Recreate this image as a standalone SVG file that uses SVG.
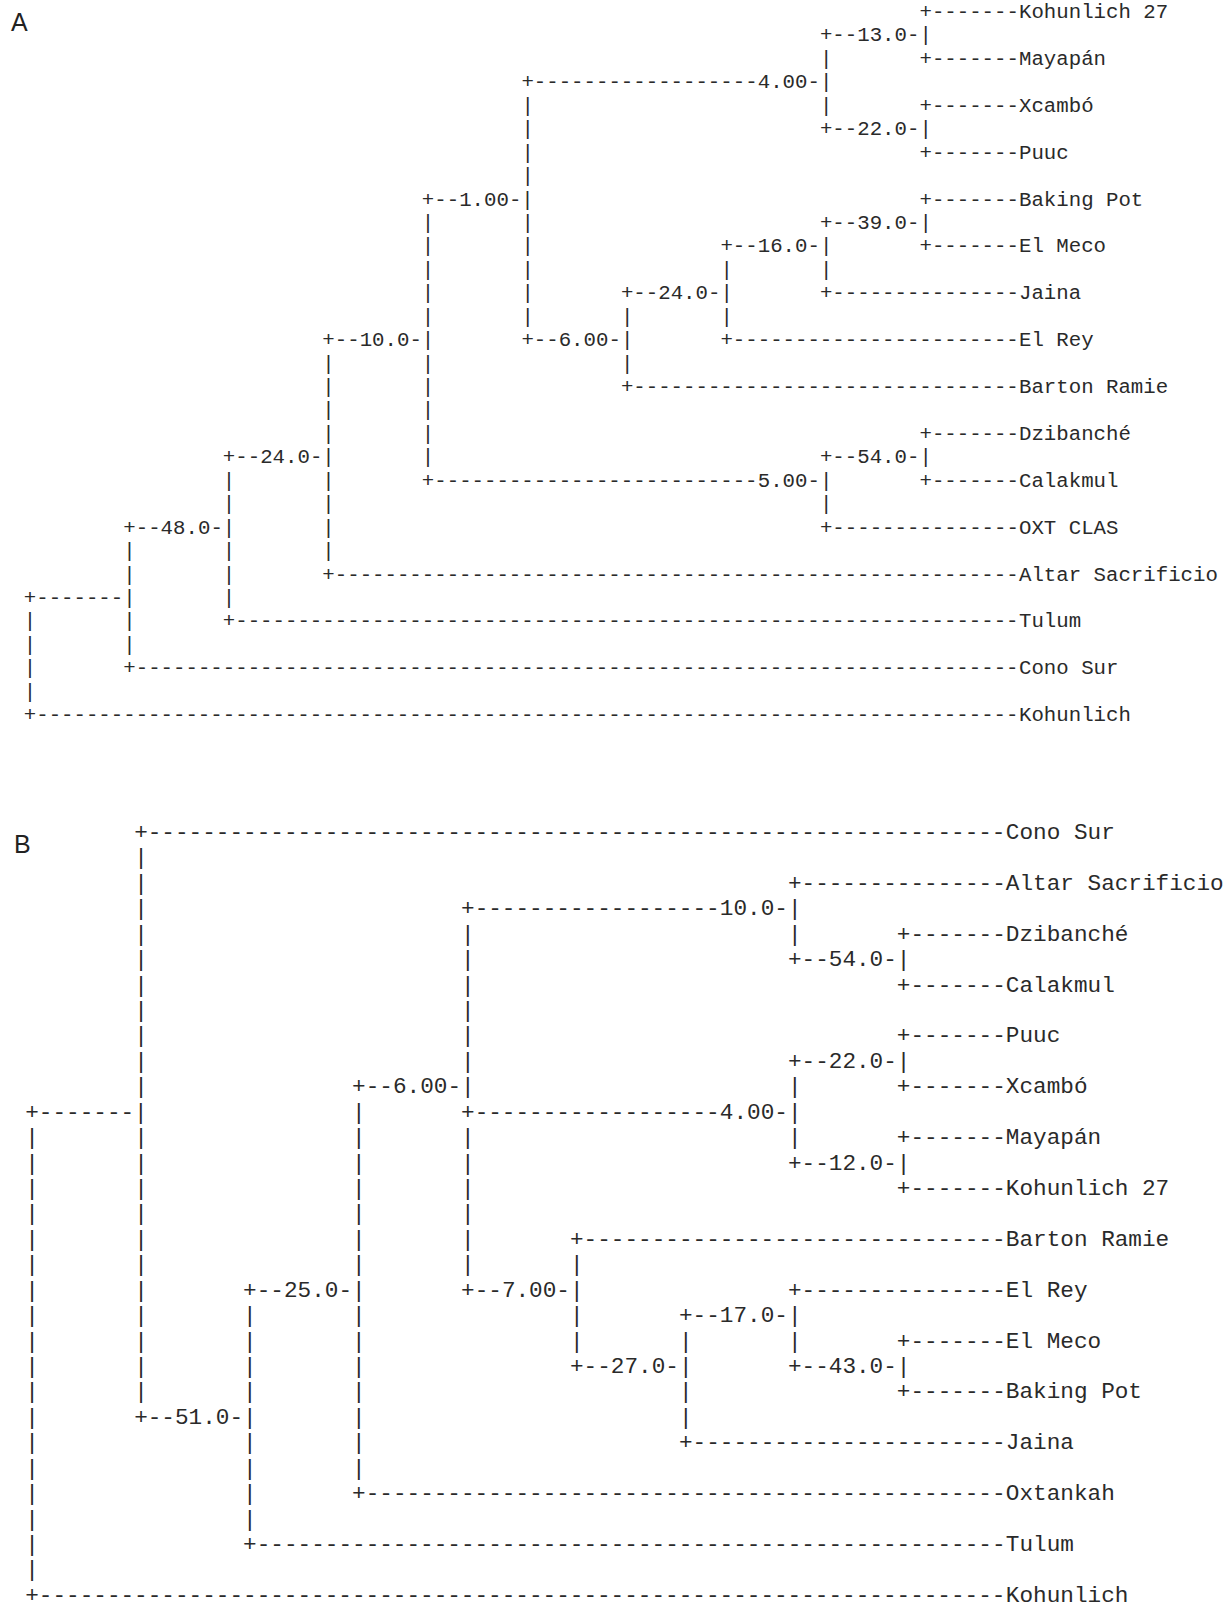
<svg xmlns="http://www.w3.org/2000/svg" width="1226" height="1611" viewBox="0 0 1226 1611">
<style>
.ta{font-family:"Liberation Mono","DejaVu Sans Mono",monospace;font-size:20.73px;fill:#2a2a2a}
.tb{font-family:"Liberation Mono","DejaVu Sans Mono",monospace;font-size:22.7px;fill:#2a2a2a}
.panel{font-family:"Liberation Sans",Arial,sans-serif;font-size:25px;fill:#222}
</style>
<rect width="1226" height="1611" fill="#ffffff"/>
<text class="panel" x="11" y="31">A</text>
<text class="panel" x="14" y="853">B</text>

<g id="connectors">
<g id="connectors-A" class="ta">
<text y="18"><tspan x="919.46">+-------</tspan></text>
<text y="41.44"><tspan x="819.94">+--</tspan><tspan x="907.02">-|</tspan></text>
<text y="64.88"><tspan x="819.94">|</tspan><tspan x="919.46">+-------</tspan></text>
<text y="88.32"><tspan x="521.38">+------------------</tspan><tspan x="807.5">-|</tspan></text>
<text y="111.76"><tspan x="521.38">|</tspan><tspan x="819.94">|</tspan><tspan x="919.46">+-------</tspan></text>
<text y="135.2"><tspan x="521.38">|</tspan><tspan x="819.94">+--</tspan><tspan x="907.02">-|</tspan></text>
<text y="158.64"><tspan x="521.38">|</tspan><tspan x="919.46">+-------</tspan></text>
<text y="182.08"><tspan x="521.38">|</tspan></text>
<text y="205.52"><tspan x="421.86">+--</tspan><tspan x="508.94">-|</tspan><tspan x="919.46">+-------</tspan></text>
<text y="228.96"><tspan x="421.86">|</tspan><tspan x="521.38">|</tspan><tspan x="819.94">+--</tspan><tspan x="907.02">-|</tspan></text>
<text y="252.4"><tspan x="421.86">|</tspan><tspan x="521.38">|</tspan><tspan x="720.42">+--</tspan><tspan x="807.5">-|</tspan><tspan x="919.46">+-------</tspan></text>
<text y="275.84"><tspan x="421.86">|</tspan><tspan x="521.38">|</tspan><tspan x="720.42">|</tspan><tspan x="819.94">|</tspan></text>
<text y="299.28"><tspan x="421.86">|</tspan><tspan x="521.38">|</tspan><tspan x="620.9">+--</tspan><tspan x="707.98">-|</tspan><tspan x="819.94">+---------------</tspan></text>
<text y="322.72"><tspan x="421.86">|</tspan><tspan x="521.38">|</tspan><tspan x="620.9">|</tspan><tspan x="720.42">|</tspan></text>
<text y="346.16"><tspan x="322.34">+--</tspan><tspan x="409.42">-|</tspan><tspan x="521.38">+--</tspan><tspan x="608.46">-|</tspan><tspan x="720.42">+-----------------------</tspan></text>
<text y="369.6"><tspan x="322.34">|</tspan><tspan x="421.86">|</tspan><tspan x="620.9">|</tspan></text>
<text y="393.04"><tspan x="322.34">|</tspan><tspan x="421.86">|</tspan><tspan x="620.9">+-------------------------------</tspan></text>
<text y="416.48"><tspan x="322.34">|</tspan><tspan x="421.86">|</tspan></text>
<text y="439.92"><tspan x="322.34">|</tspan><tspan x="421.86">|</tspan><tspan x="919.46">+-------</tspan></text>
<text y="463.36"><tspan x="222.82">+--</tspan><tspan x="309.9">-|</tspan><tspan x="421.86">|</tspan><tspan x="819.94">+--</tspan><tspan x="907.02">-|</tspan></text>
<text y="486.8"><tspan x="222.82">|</tspan><tspan x="322.34">|</tspan><tspan x="421.86">+--------------------------</tspan><tspan x="807.5">-|</tspan><tspan x="919.46">+-------</tspan></text>
<text y="510.24"><tspan x="222.82">|</tspan><tspan x="322.34">|</tspan><tspan x="819.94">|</tspan></text>
<text y="533.68"><tspan x="123.3">+--</tspan><tspan x="210.38">-|</tspan><tspan x="322.34">|</tspan><tspan x="819.94">+---------------</tspan></text>
<text y="557.12"><tspan x="123.3">|</tspan><tspan x="222.82">|</tspan><tspan x="322.34">|</tspan></text>
<text y="580.56"><tspan x="123.3">|</tspan><tspan x="222.82">|</tspan><tspan x="322.34">+-------------------------------------------------------</tspan></text>
<text y="604"><tspan x="23.78">+-------|</tspan><tspan x="222.82">|</tspan></text>
<text y="627.44"><tspan x="23.78">|</tspan><tspan x="123.3">|</tspan><tspan x="222.82">+---------------------------------------------------------------</tspan></text>
<text y="650.88"><tspan x="23.78">|</tspan><tspan x="123.3">|</tspan></text>
<text y="674.32"><tspan x="23.78">|</tspan><tspan x="123.3">+-----------------------------------------------------------------------</tspan></text>
<text y="697.76"><tspan x="23.78">|</tspan></text>
<text y="721.2"><tspan x="23.78">+-------------------------------------------------------------------------------</tspan></text>
</g>
<g id="connectors-B" class="tb">
<text y="839"><tspan x="134.15">+---------------------------------------------------------------</tspan></text>
<text y="864.43"><tspan x="134.15">|</tspan></text>
<text y="889.86"><tspan x="134.15">|</tspan><tspan x="787.91">+---------------</tspan></text>
<text y="915.29"><tspan x="134.15">|</tspan><tspan x="461.03">+------------------</tspan><tspan x="774.29">-|</tspan></text>
<text y="940.72"><tspan x="134.15">|</tspan><tspan x="461.03">|</tspan><tspan x="787.91">|</tspan><tspan x="896.87">+-------</tspan></text>
<text y="966.15"><tspan x="134.15">|</tspan><tspan x="461.03">|</tspan><tspan x="787.91">+--</tspan><tspan x="883.25">-|</tspan></text>
<text y="991.58"><tspan x="134.15">|</tspan><tspan x="461.03">|</tspan><tspan x="896.87">+-------</tspan></text>
<text y="1017.01"><tspan x="134.15">|</tspan><tspan x="461.03">|</tspan></text>
<text y="1042.44"><tspan x="134.15">|</tspan><tspan x="461.03">|</tspan><tspan x="896.87">+-------</tspan></text>
<text y="1067.87"><tspan x="134.15">|</tspan><tspan x="461.03">|</tspan><tspan x="787.91">+--</tspan><tspan x="883.25">-|</tspan></text>
<text y="1093.3"><tspan x="134.15">|</tspan><tspan x="352.07">+--</tspan><tspan x="447.41">-|</tspan><tspan x="787.91">|</tspan><tspan x="896.87">+-------</tspan></text>
<text y="1118.73"><tspan x="25.19">+-------|</tspan><tspan x="352.07">|</tspan><tspan x="461.03">+------------------</tspan><tspan x="774.29">-|</tspan></text>
<text y="1144.16"><tspan x="25.19">|</tspan><tspan x="134.15">|</tspan><tspan x="352.07">|</tspan><tspan x="461.03">|</tspan><tspan x="787.91">|</tspan><tspan x="896.87">+-------</tspan></text>
<text y="1169.59"><tspan x="25.19">|</tspan><tspan x="134.15">|</tspan><tspan x="352.07">|</tspan><tspan x="461.03">|</tspan><tspan x="787.91">+--</tspan><tspan x="883.25">-|</tspan></text>
<text y="1195.02"><tspan x="25.19">|</tspan><tspan x="134.15">|</tspan><tspan x="352.07">|</tspan><tspan x="461.03">|</tspan><tspan x="896.87">+-------</tspan></text>
<text y="1220.45"><tspan x="25.19">|</tspan><tspan x="134.15">|</tspan><tspan x="352.07">|</tspan><tspan x="461.03">|</tspan></text>
<text y="1245.88"><tspan x="25.19">|</tspan><tspan x="134.15">|</tspan><tspan x="352.07">|</tspan><tspan x="461.03">|</tspan><tspan x="569.99">+-------------------------------</tspan></text>
<text y="1271.31"><tspan x="25.19">|</tspan><tspan x="134.15">|</tspan><tspan x="352.07">|</tspan><tspan x="461.03">|</tspan><tspan x="569.99">|</tspan></text>
<text y="1296.74"><tspan x="25.19">|</tspan><tspan x="134.15">|</tspan><tspan x="243.11">+--</tspan><tspan x="338.45">-|</tspan><tspan x="461.03">+--</tspan><tspan x="556.37">-|</tspan><tspan x="787.91">+---------------</tspan></text>
<text y="1322.17"><tspan x="25.19">|</tspan><tspan x="134.15">|</tspan><tspan x="243.11">|</tspan><tspan x="352.07">|</tspan><tspan x="569.99">|</tspan><tspan x="678.95">+--</tspan><tspan x="774.29">-|</tspan></text>
<text y="1347.6"><tspan x="25.19">|</tspan><tspan x="134.15">|</tspan><tspan x="243.11">|</tspan><tspan x="352.07">|</tspan><tspan x="569.99">|</tspan><tspan x="678.95">|</tspan><tspan x="787.91">|</tspan><tspan x="896.87">+-------</tspan></text>
<text y="1373.03"><tspan x="25.19">|</tspan><tspan x="134.15">|</tspan><tspan x="243.11">|</tspan><tspan x="352.07">|</tspan><tspan x="569.99">+--</tspan><tspan x="665.33">-|</tspan><tspan x="787.91">+--</tspan><tspan x="883.25">-|</tspan></text>
<text y="1398.46"><tspan x="25.19">|</tspan><tspan x="134.15">|</tspan><tspan x="243.11">|</tspan><tspan x="352.07">|</tspan><tspan x="678.95">|</tspan><tspan x="896.87">+-------</tspan></text>
<text y="1423.89"><tspan x="25.19">|</tspan><tspan x="134.15">+--</tspan><tspan x="229.49">-|</tspan><tspan x="352.07">|</tspan><tspan x="678.95">|</tspan></text>
<text y="1449.32"><tspan x="25.19">|</tspan><tspan x="243.11">|</tspan><tspan x="352.07">|</tspan><tspan x="678.95">+-----------------------</tspan></text>
<text y="1474.75"><tspan x="25.19">|</tspan><tspan x="243.11">|</tspan><tspan x="352.07">|</tspan></text>
<text y="1500.18"><tspan x="25.19">|</tspan><tspan x="243.11">|</tspan><tspan x="352.07">+-----------------------------------------------</tspan></text>
<text y="1525.61"><tspan x="25.19">|</tspan><tspan x="243.11">|</tspan></text>
<text y="1551.04"><tspan x="25.19">|</tspan><tspan x="243.11">+-------------------------------------------------------</tspan></text>
<text y="1576.47"><tspan x="25.19">|</tspan></text>
<text y="1601.9"><tspan x="25.19">+-----------------------------------------------------------------------</tspan></text>
</g>
</g>

<g id="nodes-A" class="ta">
<g id="A-n13"><text x="857.26" y="41.44">13.0</text></g>
<g id="A-n4"><text x="757.74" y="88.32">4.00</text></g>
<g id="A-n22"><text x="857.26" y="135.2">22.0</text></g>
<g id="A-n1"><text x="459.18" y="205.52">1.00</text></g>
<g id="A-n39"><text x="857.26" y="228.96">39.0</text></g>
<g id="A-n16"><text x="757.74" y="252.4">16.0</text></g>
<g id="A-n24b"><text x="658.22" y="299.28">24.0</text></g>
<g id="A-n10"><text x="359.66" y="346.16">10.0</text></g>
<g id="A-n6"><text x="558.7" y="346.16">6.00</text></g>
<g id="A-n24a"><text x="260.14" y="463.36">24.0</text></g>
<g id="A-n54"><text x="857.26" y="463.36">54.0</text></g>
<g id="A-n5"><text x="757.74" y="486.8">5.00</text></g>
<g id="A-n48"><text x="160.62" y="533.68">48.0</text></g>
<g id="A-kohunlich27"><text x="1018.98" y="18">Kohunlich 27</text></g>
<g id="A-mayapan"><text x="1018.98" y="64.88">Mayapán</text></g>
<g id="A-xcambo"><text x="1018.98" y="111.76">Xcambó</text></g>
<g id="A-puuc"><text x="1018.98" y="158.64">Puuc</text></g>
<g id="A-bakingpot"><text x="1018.98" y="205.52">Baking Pot</text></g>
<g id="A-elmeco"><text x="1018.98" y="252.4">El Meco</text></g>
<g id="A-jaina"><text x="1018.98" y="299.28">Jaina</text></g>
<g id="A-elrey"><text x="1018.98" y="346.16">El Rey</text></g>
<g id="A-bartonramie"><text x="1018.98" y="393.04">Barton Ramie</text></g>
<g id="A-dzibanche"><text x="1018.98" y="439.92">Dzibanché</text></g>
<g id="A-calakmul"><text x="1018.98" y="486.8">Calakmul</text></g>
<g id="A-oxtclas"><text x="1018.98" y="533.68">OXT CLAS</text></g>
<g id="A-altarsacrificio"><text x="1018.98" y="580.56">Altar Sacrificio</text></g>
<g id="A-tulum"><text x="1018.98" y="627.44">Tulum</text></g>
<g id="A-conosur"><text x="1018.98" y="674.32">Cono Sur</text></g>
<g id="A-kohunlich"><text x="1018.98" y="721.2">Kohunlich</text></g>
</g>

<g id="nodes-B" class="tb">
<g id="B-n10"><text x="719.81" y="915.29">10.0</text></g>
<g id="B-n54"><text x="828.77" y="966.15">54.0</text></g>
<g id="B-n22"><text x="828.77" y="1067.87">22.0</text></g>
<g id="B-n6"><text x="392.93" y="1093.3">6.00</text></g>
<g id="B-n4"><text x="719.81" y="1118.73">4.00</text></g>
<g id="B-n12"><text x="828.77" y="1169.59">12.0</text></g>
<g id="B-n25"><text x="283.97" y="1296.74">25.0</text></g>
<g id="B-n7"><text x="501.89" y="1296.74">7.00</text></g>
<g id="B-n17"><text x="719.81" y="1322.17">17.0</text></g>
<g id="B-n27"><text x="610.85" y="1373.03">27.0</text></g>
<g id="B-n43"><text x="828.77" y="1373.03">43.0</text></g>
<g id="B-n51"><text x="175.01" y="1423.89">51.0</text></g>
<g id="B-conosur"><text x="1005.83" y="839">Cono Sur</text></g>
<g id="B-altarsacrificio"><text x="1005.83" y="889.86">Altar Sacrificio</text></g>
<g id="B-dzibanche"><text x="1005.83" y="940.72">Dzibanché</text></g>
<g id="B-calakmul"><text x="1005.83" y="991.58">Calakmul</text></g>
<g id="B-puuc"><text x="1005.83" y="1042.44">Puuc</text></g>
<g id="B-xcambo"><text x="1005.83" y="1093.3">Xcambó</text></g>
<g id="B-mayapan"><text x="1005.83" y="1144.16">Mayapán</text></g>
<g id="B-kohunlich27"><text x="1005.83" y="1195.02">Kohunlich 27</text></g>
<g id="B-bartonramie"><text x="1005.83" y="1245.88">Barton Ramie</text></g>
<g id="B-elrey"><text x="1005.83" y="1296.74">El Rey</text></g>
<g id="B-elmeco"><text x="1005.83" y="1347.6">El Meco</text></g>
<g id="B-bakingpot"><text x="1005.83" y="1398.46">Baking Pot</text></g>
<g id="B-jaina"><text x="1005.83" y="1449.32">Jaina</text></g>
<g id="B-oxtankah"><text x="1005.83" y="1500.18">Oxtankah</text></g>
<g id="B-tulum"><text x="1005.83" y="1551.04">Tulum</text></g>
<g id="B-kohunlich"><text x="1005.83" y="1601.9">Kohunlich</text></g>
</g>
</svg>
